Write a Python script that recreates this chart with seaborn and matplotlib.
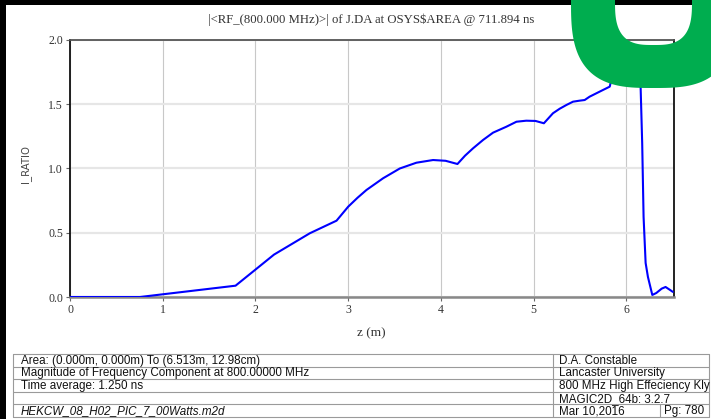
import numpy as np
import pandas as pd
import matplotlib
matplotlib.use("Agg")
import matplotlib.pyplot as plt
import seaborn as sns
from matplotlib.path import Path
from matplotlib.patches import PathPatch, Rectangle
from matplotlib.lines import Line2D

# ---------------- data ----------------
z_m = [0.0, 0.754, 1.785, 2.2, 2.586, 2.874, 3.0, 3.1, 3.197, 3.376, 3.556, 3.735,
       3.915, 4.05, 4.178, 4.26, 4.346, 4.454, 4.562, 4.705, 4.814, 4.92, 5.02,
       5.11, 5.208, 5.28, 5.352, 5.424, 5.496, 5.55, 5.603, 5.747, 5.82, 5.837,
       5.95, 6.05, 6.11, 6.145, 6.153, 6.17, 6.185, 6.207, 6.232, 6.279, 6.322,
       6.38, 6.422, 6.47, 6.5]
i_ratio = [0.0, 0.0, 0.088, 0.33, 0.496, 0.594, 0.703, 0.772, 0.833, 0.924, 1.0,
           1.045, 1.066, 1.06, 1.035, 1.10, 1.157, 1.222, 1.279, 1.325, 1.364,
           1.372, 1.37, 1.352, 1.43, 1.465, 1.494, 1.52, 1.528, 1.533, 1.559,
           1.611, 1.637, 1.689, 1.75, 1.80, 1.82, 1.80, 1.634, 1.198, 0.623,
           0.265, 0.156, 0.016, 0.031, 0.065, 0.078, 0.055, 0.04]
x_ticks = [0, 1, 2, 3, 4, 5, 6]
y_ticks = [0.0, 0.5, 1.0, 1.5, 2.0]
x_max = 6.513
title_text = "|<RF_(800.000 MHz)>| of J.DA at OSYS$AREA @ 711.894 ns"
x_label = "z (m)"
y_label = "I_RATIO"
table_left = ["Area: (0.000m, 0.000m) To (6.513m, 12.98cm)",
              "Magnitude of Frequency Component at 800.00000 MHz",
              "Time average: 1.250 ns",
              "",
              "HEKCW_08_H02_PIC_7_00Watts.m2d"]
table_right = ["D.A. Constable",
               "Lancaster University",
               "800 MHz High Effeciency Kly",
               "MAGIC2D_64b: 3.2.7",
               "Mar 10,2016"]
page_text = "Pg: 780"

df = pd.DataFrame({"z": z_m, "ratio": i_ratio})

# ---------------- figure ----------------
W, H = 711, 419
sns.set_style("white")
plt.rcParams["font.family"] = ["Liberation Serif", "DejaVu Serif"]
fig = plt.figure(figsize=(W / 100, H / 100), dpi=100)
fig.patch.set_facecolor("white")


def fx(x):
    return x / W


def fy(y):
    return 1 - y / H


ax = fig.add_axes([fx(70), fy(297), (674 - 70) / W, (297 - 40) / H])
sns.lineplot(data=df, x="z", y="ratio", ax=ax, color="#0000ff", lw=1.5,
             estimator=None, sort=False, zorder=5)
ax.set_xlim(0, x_max)
ax.set_ylim(0, 2.0)
ax.set_xticks(x_ticks)
ax.set_yticks(y_ticks)
ax.set_xticklabels([str(v) for v in x_ticks])
ax.set_yticklabels([f"{v:.1f}" for v in y_ticks])
ax.xaxis.grid(True, color="#c8c8c8", lw=0.8)
ax.yaxis.grid(True, color="#e6e6e6", lw=1.6)
ax.set_axisbelow(True)
ax.tick_params(axis="both", direction="out", length=3, width=0.8,
               color="#666666", labelsize=8.5, labelcolor="#333333", pad=2,
               left=True, bottom=True)
for lab in ax.get_xticklabels() + ax.get_yticklabels():
    lab.set_family(["Liberation Serif", "DejaVu Serif"])
ax.spines["left"].set_color("#111111")
ax.spines["right"].set_color("#111111")
ax.spines["top"].set_color("#555555")
ax.spines["bottom"].set_color("#888888")
ax.spines["left"].set_linewidth(1.3)
ax.spines["right"].set_linewidth(1.3)
ax.spines["top"].set_linewidth(1.3)
ax.spines["bottom"].set_linewidth(1.8)
ax.set_xlabel("")
ax.set_ylabel("")

# title and axis labels as figure text (positions in pixels)
t_title = fig.text(fx(371), fy(20), title_text, ha="center", va="center",
                   fontsize=9, color="#333333", parse_math=False,
                   family=["Liberation Serif", "DejaVu Serif"])
t_xl = fig.text(fx(371), fy(333), x_label, ha="center", va="center",
                fontsize=9, color="#333333",
                family=["Liberation Serif", "DejaVu Serif"])
t_yl = fig.text(fx(26), fy(164), y_label, ha="center", va="center",
                rotation=90, fontsize=8, color="#444444",
                family=["Liberation Sans Narrow", "DejaVu Sans"])

# ---------------- table ----------------
tab_l, tab_m, tab_p, tab_r = 12.7, 553, 660, 709
row_y = [354, 366.6, 379.2, 391.8, 404.4, 417]
lc = "#9a9a9a"
for y in row_y:
    fig.add_artist(Line2D([fx(tab_l), fx(tab_r)], [fy(y), fy(y)],
                          color=lc, lw=0.8, transform=fig.transFigure))
for x in (tab_l, tab_m, tab_r):
    fig.add_artist(Line2D([fx(x), fx(x)], [fy(row_y[0]), fy(row_y[-1])],
                          color=lc, lw=0.8, transform=fig.transFigure))
fig.add_artist(Line2D([fx(tab_p), fx(tab_p)], [fy(row_y[4]), fy(row_y[5])],
                      color=lc, lw=0.8, transform=fig.transFigure))

tab_texts = []
for i, s in enumerate(table_left):
    yc = (row_y[i] + row_y[i + 1]) / 2 + 0.5
    t = fig.text(fx(21), fy(yc), s, ha="left", va="center", fontsize=8,
                 color="#111111", style="italic" if i == 4 else "normal",
                 family=["Liberation Sans", "DejaVu Sans"])
    tab_texts.append(t)
for i, s in enumerate(table_right):
    yc = (row_y[i] + row_y[i + 1]) / 2 + 0.5
    t = fig.text(fx(559), fy(yc), s, ha="left", va="center", fontsize=8,
                 color="#111111", family=["Liberation Sans", "DejaVu Sans"])
    tab_texts.append(t)
yc = (row_y[4] + row_y[5]) / 2 + 0.5
tab_texts.append(fig.text(fx(664), fy(yc), page_text, ha="left", va="center",
                          fontsize=8, color="#111111",
                          family=["Liberation Sans", "DejaVu Sans"]))

# fit text sizes to the widths seen in the reference
fig.canvas.draw()
rend = fig.canvas.get_renderer()


def fit(t, target, vertical=False):
    bb = t.get_window_extent(rend)
    w = bb.height if vertical else bb.width
    if w > 0:
        t.set_fontsize(t.get_fontsize() * target / w)


fit(t_title, 326)
fit(t_xl, 28)
fit(t_yl, 38, vertical=True)
fit(tab_texts[0], 240)
size_tab = tab_texts[0].get_fontsize()
for t in tab_texts[1:]:
    t.set_fontsize(size_tab)

# ---------------- black border and green ring ----------------
fig.add_artist(Rectangle((0, 0), fx(6), 1, facecolor="black", edgecolor="none",
                         transform=fig.transFigure, zorder=20))
fig.add_artist(Rectangle((0, fy(5)), 1, 1 - fy(5), facecolor="black",
                         edgecolor="none", transform=fig.transFigure, zorder=20))


def superellipse(cx, cy, a, b, n, reverse=False, m=200):
    t = np.linspace(0, 2 * np.pi, m)
    c, s = np.cos(t), np.sin(t)
    xs = cx + a * np.sign(c) * np.abs(c) ** (2 / n)
    ys = cy + b * np.sign(s) * np.abs(s) ** (2 / n)
    pts = np.column_stack([fx(xs), fy(ys)])
    if reverse:
        pts = pts[::-1]
    return pts


outer = superellipse(653.5, 0, 82.5, 88, 3)
inner = superellipse(653.5, 0, 38.5, 45, 3, reverse=True)
verts = np.vstack([outer, inner])
codes = ([Path.MOVETO] + [Path.LINETO] * (len(outer) - 2) + [Path.CLOSEPOLY]
         + [Path.MOVETO] + [Path.LINETO] * (len(inner) - 2) + [Path.CLOSEPOLY])
ring = PathPatch(Path(verts, codes), facecolor="#00ad4f", edgecolor="none",
                 transform=fig.transFigure, zorder=30)
fig.add_artist(ring)

fig.savefig("out.png", dpi=100, facecolor="white")
